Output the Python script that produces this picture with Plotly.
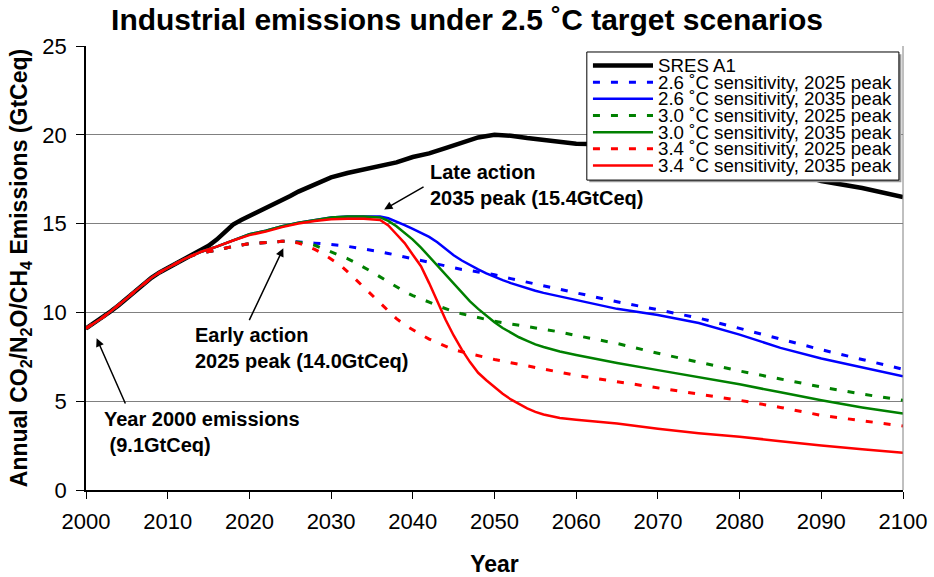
import plotly.graph_objects as go

# ---------------- data ----------------
early_years = list(range(2000, 2014))
early_values = [9.1, 9.4, 9.7, 10.05, 10.4, 10.8, 11.2, 11.6, 11.95, 12.25, 12.5, 12.75, 13.0, 13.2]

sres_years = [2014, 2015, 2016, 2017, 2018, 2019, 2020, 2021, 2022, 2023, 2024, 2025, 2026, 2027,
              2028, 2029, 2030, 2032, 2034, 2036, 2038, 2040, 2042, 2044, 2046, 2048, 2050, 2052,
              2054, 2056, 2058, 2060, 2065, 2070, 2075, 2080, 2085, 2090, 2095, 2100]
sres_values = [13.45, 13.75, 14.1, 14.5, 14.95, 15.2, 15.42, 15.6, 15.85, 16.05, 16.3, 16.55, 16.8, 17.0,
               17.2, 17.45, 17.6, 17.85, 18.05, 18.3, 18.45, 18.75, 18.95, 19.25, 19.55, 19.85, 20.0, 19.95,
               19.82, 19.7, 19.6, 19.5, 19.45, 19.3, 19.0, 18.6, 18.1, 17.4, 17.0, 16.5]

# 2025-peak (dashed) scenarios
p25_years = [2014, 2016, 2018, 2020, 2022, 2024, 2025, 2026, 2027, 2028, 2029, 2030, 2031, 2032, 2033,
             2034, 2035, 2036, 2037, 2038, 2039, 2040, 2041, 2042, 2043, 2044, 2045, 2046, 2048,
             2050, 2052, 2054, 2056, 2058, 2060, 2065, 2070, 2075, 2080, 2085, 2090, 2095, 2100]
s26_p25 = [13.35, 13.5, 13.72, 13.87, 13.95, 14.0, 14.0, 13.98, 13.95, 13.9, 13.87, 13.84, 13.78, 13.72, 13.65,
           13.58, 13.5, 13.42, 13.32, 13.22, 13.12, 13.02, 12.91, 12.8, 12.7, 12.6, 12.5, 12.42, 12.28,
           12.12, 11.9, 11.7, 11.5, 11.3, 11.1, 10.6, 10.15, 9.68, 9.1, 8.5, 7.9, 7.35, 6.8]
s30_p25 = [13.35, 13.5, 13.72, 13.87, 13.95, 14.0, 14.0, 13.97, 13.9, 13.78, 13.6, 13.42, 13.2, 13.03, 12.8,
           12.55, 12.28, 12.0, 11.72, 11.45, 11.17, 10.95, 10.78, 10.58, 10.38, 10.2, 10.05, 9.92, 9.72,
           9.5, 9.35, 9.2, 9.05, 8.9, 8.7, 8.25, 7.7, 7.2, 6.7, 6.25, 5.8, 5.4, 5.05]
s34_p25 = [13.35, 13.5, 13.72, 13.87, 13.95, 14.0, 14.0, 13.9, 13.75, 13.55, 13.3, 13.0, 12.7, 12.3, 11.85,
           11.4, 10.95, 10.5, 10.1, 9.65, 9.3, 9.0, 8.75, 8.5, 8.3, 8.1, 7.9, 7.78, 7.55,
           7.35, 7.17, 7.0, 6.8, 6.62, 6.45, 6.1, 5.75, 5.4, 5.05, 4.65, 4.2, 3.9, 3.6]

# 2035-peak (solid) scenarios
p35_years = [2014, 2016, 2018, 2020, 2022, 2024, 2026, 2028, 2030, 2032, 2034, 2036, 2037, 2038, 2039,
             2040, 2041, 2042, 2043, 2044, 2045, 2046, 2047, 2048, 2049, 2050, 2051, 2052, 2053, 2054,
             2055, 2056, 2058, 2060, 2065, 2070, 2075, 2080, 2085, 2090, 2095, 2100]
s26_p35 = [13.4, 13.7, 14.05, 14.4, 14.6, 14.85, 15.05, 15.2, 15.35, 15.4, 15.4, 15.4, 15.3, 15.12, 14.92,
           14.7, 14.48, 14.25, 13.95, 13.58, 13.22, 12.92, 12.65, 12.42, 12.2, 12.0, 11.82, 11.65, 11.5, 11.35,
           11.22, 11.1, 10.9, 10.7, 10.2, 9.85, 9.4, 8.75, 8.0, 7.4, 6.9, 6.4]
s30_p35 = [13.4, 13.7, 14.05, 14.4, 14.6, 14.85, 15.05, 15.2, 15.35, 15.4, 15.4, 15.35, 15.15, 14.85, 14.5,
           14.1, 13.65, 13.15, 12.62, 12.1, 11.6, 11.1, 10.62, 10.2, 9.8, 9.45, 9.12, 8.85, 8.6, 8.4,
           8.2, 8.05, 7.8, 7.6, 7.15, 6.75, 6.35, 5.95, 5.5, 5.05, 4.65, 4.3]
s34_p35 = [13.4, 13.7, 14.05, 14.35, 14.55, 14.8, 15.0, 15.15, 15.25, 15.27, 15.27, 15.2, 14.9, 14.4, 13.9,
           13.25, 12.6, 11.65, 10.62, 9.6, 8.7, 7.9, 7.2, 6.6, 6.18, 5.8, 5.42, 5.1, 4.85, 4.6,
           4.4, 4.25, 4.05, 3.95, 3.75, 3.45, 3.2, 3.0, 2.75, 2.5, 2.3, 2.1]

x_ticks = [2000, 2010, 2020, 2030, 2040, 2050, 2060, 2070, 2080, 2090, 2100]
y_ticks = [0, 5, 10, 15, 20, 25]

series_names = ["SRES A1",
                "2.6 ˚C sensitivity, 2025 peak", "2.6 ˚C sensitivity, 2035 peak",
                "3.0 ˚C sensitivity, 2025 peak", "3.0 ˚C sensitivity, 2035 peak",
                "3.4 ˚C sensitivity, 2025 peak", "3.4 ˚C sensitivity, 2035 peak"]
series_years = [sres_years, p25_years, p35_years, p25_years, p35_years, p25_years, p35_years]
series_values = [sres_values, s26_p25, s26_p35, s30_p25, s30_p35, s34_p25, s34_p35]

# ---------------- styles ----------------
FONT = "Liberation Sans, Arial, Helvetica, sans-serif"
DASH = "7px,11px"
styles = [
    dict(color="#000000", width=4.5, dash="solid"),
    dict(color="#0000FF", width=3, dash=DASH),
    dict(color="#0000FF", width=2.5, dash="solid"),
    dict(color="#008000", width=3, dash=DASH),
    dict(color="#008000", width=2.5, dash="solid"),
    dict(color="#FF0000", width=3, dash=DASH),
    dict(color="#FF0000", width=2.5, dash="solid"),
]

fig = go.Figure()
for name, yrs, vals, st in zip(series_names, series_years, series_values, styles):
    fig.add_trace(go.Scatter(
        x=early_years + yrs, y=early_values + vals, mode="lines", name=name,
        line=dict(color=st["color"], width=st["width"], dash=st["dash"]),
        showlegend=False, hoverinfo="skip"))

# ---------------- annotations ----------------
def label(x, y, text):
    return dict(x=x, y=y, xref="x", yref="y", text=text, showarrow=False,
                xanchor="left", yanchor="middle", align="left",
                font=dict(family=FONT, size=20, color="black"))

def arrow(x, y, ax, ay):
    return dict(x=x, y=y, ax=ax, ay=ay, xref="x", yref="y", axref="x", ayref="y",
                text="", showarrow=True, arrowhead=2, arrowsize=1.1, arrowwidth=1.5,
                arrowcolor="black", standoff=0, startstandoff=0)

annotations = [
    label(2041.9, 17.2, "<b>Late action<br>2035 peak (15.4GtCeq)</b>"),
    arrow(2036.5, 15.8, 2041.5, 17.12),
    label(2013.1, 8.02, "<b>Early action<br>2025 peak (14.0GtCeq)</b>"),
    arrow(2024.15, 13.61, 2019.9, 9.48),
    label(2001.9, 3.24, "<b>Year 2000 emissions<br>\u00a0(9.1GtCeq)</b>"),
    arrow(2001.3, 8.54, 2004.9, 4.79),
]

# ---------------- manual legend (compact, as in the original) ----------------
leg_x0, leg_x1 = 0.613, 0.995
leg_y0, leg_y1 = 0.698, 0.9865
row_top = 0.956
row_step = 0.0375
sample_x0, sample_x1, text_x = 0.6205, 0.694, 0.6975

shapes = [
    dict(type="line", xref="paper", yref="paper", x0=1, x1=1, y0=0, y1=1,
         line=dict(color="#808080", width=1), layer="above"),
    dict(type="rect", xref="paper", yref="paper", x0=leg_x0 + 0.003, x1=leg_x1 + 0.003,
         y0=leg_y0 - 0.005, y1=leg_y1 - 0.005, fillcolor="#9a9a9a",
         line=dict(width=0), layer="above"),
    dict(type="rect", xref="paper", yref="paper", x0=leg_x0, x1=leg_x1,
         y0=leg_y0, y1=leg_y1, fillcolor="white",
         line=dict(color="black", width=1), layer="above"),
]
for i, (name, st) in enumerate(zip(series_names, styles)):
    ry = row_top - i * row_step
    shapes.append(dict(type="line", xref="paper", yref="paper",
                       x0=sample_x0, x1=sample_x1, y0=ry, y1=ry, layer="above",
                       line=dict(color=st["color"], width=st["width"], dash=st["dash"])))
    annotations.append(dict(x=text_x, y=ry, xref="paper", yref="paper", text=name,
                            showarrow=False, xanchor="left", yanchor="middle",
                            font=dict(family=FONT, size=18.7, color="black")))

fig.update_layout(
    width=934, height=577,
    margin=dict(l=86, r=31, t=46, b=87, autoexpand=False),
    paper_bgcolor="white", plot_bgcolor="white",
    font=dict(family=FONT, color="black"),
    title=dict(text="<b>Industrial emissions under 2.5 ˚C target scenarios</b>",
               x=0.5, xref="container", xanchor="center",
               y=1 - 19 / 577, yref="container", yanchor="middle",
               font=dict(family=FONT, size=30, color="black")),
    annotations=annotations,
    shapes=shapes,
    showlegend=False,
)
fig.update_xaxes(
    range=[2000, 2100], tickmode="array", tickvals=x_ticks, automargin=False,
    ticks="outside", ticklen=7, tickwidth=1, tickcolor="black",
    showline=True, linecolor="black", linewidth=1.5,
    showgrid=False, zeroline=False, ticklabelstandoff=4,
    tickfont=dict(family=FONT, size=22, color="black"),
    title=dict(text="<b>Year</b>", font=dict(family=FONT, size=23, color="black"), standoff=28),
)
fig.update_yaxes(
    range=[0, 25], tickmode="array", tickvals=y_ticks, automargin=False,
    ticks="outside", ticklen=8, tickwidth=1, tickcolor="black",
    showline=True, linecolor="black", linewidth=1.5,
    showgrid=True, gridcolor="#808080", gridwidth=1, zeroline=False, ticklabelstandoff=5,
    tickfont=dict(family=FONT, size=22, color="black"),
    title=dict(text="<b>Annual CO<sub>2</sub>/N<sub>2</sub>O/CH<sub>4</sub> Emissions (GtCeq)</b>",
               font=dict(family=FONT, size=23, color="black"), standoff=8),
)

fig.write_html("out.html")
